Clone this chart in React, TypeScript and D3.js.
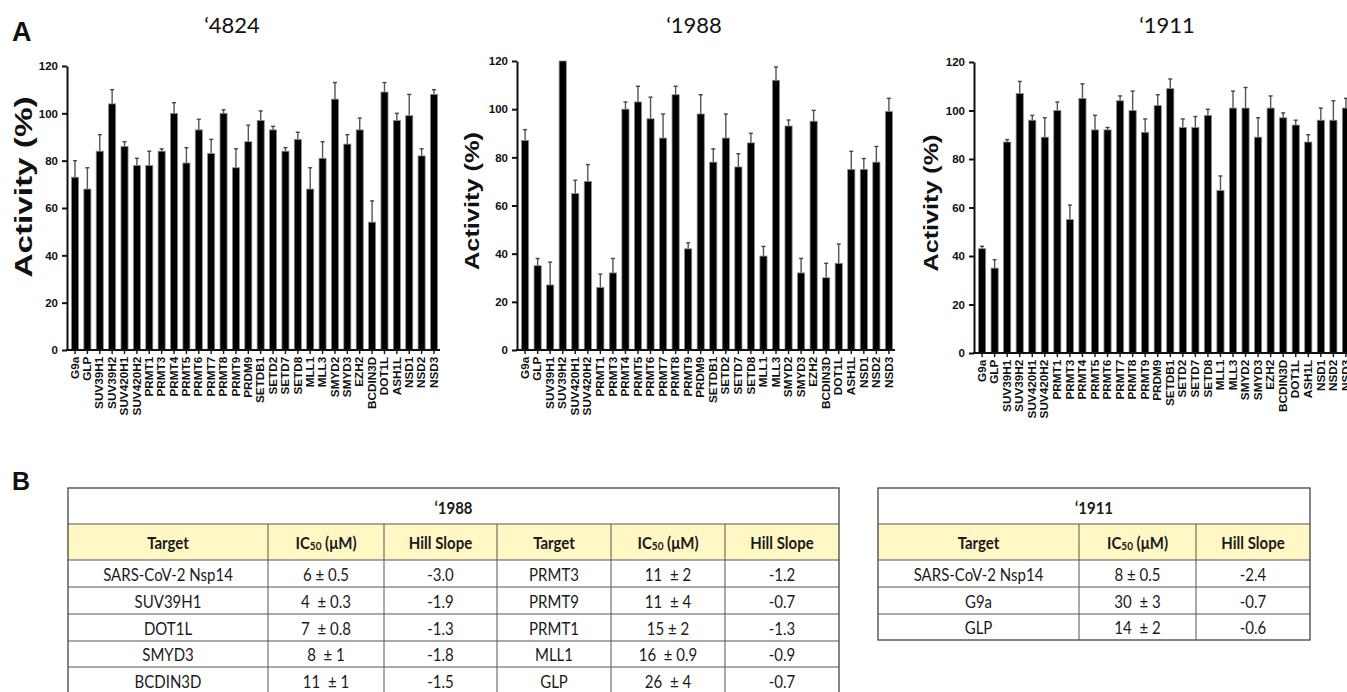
import React, { useEffect, useRef } from "react";
import * as d3 from "d3";

const targets = [
  "G9a", "GLP", "SUV39H1", "SUV39H2", "SUV420H1", "SUV420H2", "PRMT1", "PRMT3",
  "PRMT4", "PRMT5", "PRMT6", "PRMT7", "PRMT8", "PRMT9", "PRDM9", "SETDB1", "SETD2",
  "SETD7", "SETD8", "MLL1", "MLL3", "SMYD2", "SMYD3", "EZH2", "BCDIN3D", "DOT1L",
  "ASH1L", "NSD1", "NSD2", "NSD3",
];

const activity4824 = [73, 68, 84, 104, 86, 78, 78, 84, 100, 79, 93, 83, 100, 77, 88, 97, 93, 84, 89, 68, 81, 106, 87, 93, 54, 109, 97, 99, 82, 108];
const error4824 = [7, 9, 7, 6, 2, 3, 6, 1, 4.5, 6.5, 4.5, 6, 1.5, 8, 7, 4, 1.5, 1.5, 3, 9, 7, 7, 4, 5, 9, 4, 3, 9, 3, 2];

const activity1988 = [87, 35, 27, 120, 65, 70, 26, 32, 100, 103, 96, 88, 106, 42, 98, 78, 88, 76, 86, 39, 112, 93, 32, 95, 30, 36, 75, 75, 78, 99];
const error1988 = [4.5, 3, 9.5, 0, 5.5, 7, 5.5, 6, 3, 6.5, 9, 10, 3.5, 2.5, 8, 5.5, 10, 5.5, 4, 4, 5.5, 2.5, 6, 4.5, 6, 8, 7.5, 4.5, 6.5, 5.5];

const activity1911 = [43, 35, 87, 107, 96, 89, 100, 55, 105, 92, 92, 104, 100, 91, 102, 109, 93, 93, 98, 67, 101, 101, 89, 101, 97, 94, 87, 96, 96, 101];
const error1911 = [1, 3.5, 1, 5, 2, 8, 3.5, 6, 6, 6, 1, 2, 8, 5.5, 4.5, 4, 3.5, 4.5, 2.5, 6, 7, 8.5, 8, 5, 2, 2, 3, 5, 8, 4];

const yTicks = [0, 20, 40, 60, 80, 100, 120];

// table B
const headers = ["Target", "IC50", "Hill Slope"];
const t1988LeftTarget = ["SARS-CoV-2 Nsp14", "SUV39H1", "DOT1L", "SMYD3", "BCDIN3D"];
const t1988LeftIC50 = ["6 ± 0.5", "4  ± 0.3", "7  ± 0.8", "8  ± 1", "11  ± 1"];
const t1988LeftHill = ["-3.0", "-1.9", "-1.3", "-1.8", "-1.5"];
const t1988RightTarget = ["PRMT3", "PRMT9", "PRMT1", "MLL1", "GLP"];
const t1988RightIC50 = ["11  ± 2", "11  ± 4", "15 ± 2", "16  ± 0.9", "26  ± 4"];
const t1988RightHill = ["-1.2", "-0.7", "-1.3", "-0.9", "-0.7"];
const t1911Target = ["SARS-CoV-2 Nsp14", "G9a", "GLP"];
const t1911IC50 = ["8 ± 0.5", "30  ± 3", "14  ± 2"];
const t1911Hill = ["-2.4", "-0.7", "-0.6"];

const AXIS_FONT = "'Liberation Sans', Arial, sans-serif";
const TEXT_FONT = "Lato, 'Open Sans', sans-serif";

function BarPanel({ values, errors, left, right, bottom, top, labelX, labelY, labelLen, labelSize }) {
  const ref = useRef<SVGGElement>(null);

  useEffect(() => {
    const g = d3.select(ref.current);
    g.selectAll("*").remove();

    const x = d3.scaleBand().domain(targets).range([left + 2, right]).paddingInner(0.43).paddingOuter(0.2);
    const y = d3.scaleLinear().domain([0, 120]).range([bottom, top]);
    const data = targets.map((t, i) => ({ t, v: values[i], e: errors[i] }));

    // error bars (upper only)
    const eb = g.selectAll(".err").data(data.filter((d) => d.e > 0)).enter().append("g");
    eb.append("line")
      .attr("x1", (d) => x(d.t) + x.bandwidth() / 2)
      .attr("x2", (d) => x(d.t) + x.bandwidth() / 2)
      .attr("y1", (d) => y(d.v))
      .attr("y2", (d) => y(d.v + d.e))
      .attr("stroke", "#555")
      .attr("stroke-width", 1.4);
    eb.append("line")
      .attr("x1", (d) => x(d.t) + x.bandwidth() / 2 - 2)
      .attr("x2", (d) => x(d.t) + x.bandwidth() / 2 + 2)
      .attr("y1", (d) => y(d.v + d.e))
      .attr("y2", (d) => y(d.v + d.e))
      .attr("stroke", "#444")
      .attr("stroke-width", 1.4);

    g.selectAll(".bar").data(data).enter().append("rect")
      .attr("x", (d) => x(d.t))
      .attr("y", (d) => y(Math.min(d.v, 120)))
      .attr("width", x.bandwidth())
      .attr("height", (d) => bottom - y(Math.min(d.v, 120)))
      .attr("fill", "#000")
      .attr("stroke", "#8a8a8a")
      .attr("stroke-width", 0.8);

    const ya = g.append("g")
      .attr("transform", `translate(${left},0)`)
      .call(d3.axisLeft(y).tickValues(yTicks).tickSize(5).tickSizeOuter(0));
    ya.select(".domain").attr("stroke", "#111").attr("stroke-width", 2);
    ya.selectAll(".tick line").attr("stroke", "#111").attr("stroke-width", 2);
    ya.selectAll(".tick text")
      .attr("x", -9)
      .attr("fill", "#111")
      .attr("font-family", AXIS_FONT)
      .attr("font-weight", "bold")
      .attr("font-size", 11.5);

    const xa = g.append("g")
      .attr("transform", `translate(0,${bottom})`)
      .call(d3.axisBottom(x).tickSize(4).tickSizeOuter(0));
    xa.select(".domain").remove();
    xa.selectAll(".tick line").attr("stroke", "#111").attr("stroke-width", 1.4);
    xa.selectAll(".tick text")
      .attr("transform", "rotate(-90) scale(1.12,1)")
      .attr("text-anchor", "end")
      .attr("x", -6)
      .attr("y", 0)
      .attr("dy", "0.35em")
      .attr("fill", "#111")
      .attr("font-family", AXIS_FONT)
      .attr("font-weight", "bold")
      .attr("font-size", 10.5);

    g.append("line")
      .attr("x1", left - 1).attr("x2", right)
      .attr("y1", bottom).attr("y2", bottom)
      .attr("stroke", "#111").attr("stroke-width", 2);

    g.append("text")
      .attr("transform", `translate(${labelX},${labelY}) rotate(-90)`)
      .attr("text-anchor", "middle")
      .attr("dominant-baseline", "central")
      .attr("font-family", AXIS_FONT)
      .attr("font-weight", "bold")
      .attr("font-size", labelSize)
      .attr("textLength", labelLen)
      .attr("lengthAdjust", "spacingAndGlyphs")
      .attr("fill", "#111")
      .text("Activity (%)");
  }, [values, errors, left, right, bottom, top]);

  return <g ref={ref} />;
}

function Cell({ x, y, text, bold = false }) {
  const tf = `translate(${x},${y}) scale(1,1.12)`;
  if (text === "IC50") {
    return (
      <text transform={tf} textAnchor="middle" dominantBaseline="central" fontFamily={TEXT_FONT}
        fontSize={15} fontWeight={bold ? 700 : 400} fill="#1a1a1a">
        IC<tspan fontSize={10} dy={3}>50</tspan><tspan dy={-3}> (μM)</tspan>
      </text>
    );
  }
  return (
    <text transform={tf} textAnchor="middle" dominantBaseline="central" fontFamily={TEXT_FONT}
      fontSize={15} fontWeight={bold ? 700 : 400} fill="#1a1a1a" style={{ whiteSpace: "pre" }}>
      {text}
    </text>
  );
}

function Table({ cols, rows, title, head, body }) {
  const x0 = cols[0], x1 = cols[cols.length - 1];
  const y0 = rows[0], y1 = rows[rows.length - 1];
  return (
    <g>
      <rect x={x0} y={rows[1]} width={x1 - x0} height={rows[2] - rows[1]} fill="#FFF8C4" />
      {rows.slice(1, -1).map((ry, i) => (
        <line key={"r" + i} x1={x0} x2={x1} y1={ry} y2={ry} stroke="#555" strokeWidth={1} />
      ))}
      {cols.slice(1, -1).map((cx, i) => (
        <line key={"c" + i} x1={cx} x2={cx} y1={rows[1]} y2={y1} stroke="#555" strokeWidth={1} />
      ))}
      <rect x={x0} y={y0} width={x1 - x0} height={y1 - y0} fill="none" stroke="#444" strokeWidth={1.3} />
      <Cell x={(x0 + x1) / 2} y={(rows[0] + rows[1]) / 2 + 1} text={title} bold />
      {head.map((h, i) => (
        <Cell key={"h" + i} x={(cols[i] + cols[i + 1]) / 2} y={(rows[1] + rows[2]) / 2} text={h} bold />
      ))}
      {body.map((row, r) =>
        row.map((c, i) => (
          <Cell key={r + "-" + i} x={(cols[i] + cols[i + 1]) / 2} y={(rows[r + 2] + rows[r + 3]) / 2 + 0.5} text={c} />
        ))
      )}
    </g>
  );
}

export default function App() {
  const body1988 = t1988LeftTarget.map((t, i) => [
    t, t1988LeftIC50[i], t1988LeftHill[i], t1988RightTarget[i], t1988RightIC50[i], t1988RightHill[i],
  ]);
  const body1911 = t1911Target.map((t, i) => [t, t1911IC50[i], t1911Hill[i]]);

  return (
    <svg width={1347} height={692} style={{ position: "absolute", left: 0, top: 0, background: "#fff" }}>
      <text x={12} y={41} fontFamily={AXIS_FONT} fontWeight="bold" fontSize={27} fill="#111">A</text>
      <text x={12} y={490} fontFamily={AXIS_FONT} fontWeight="bold" fontSize={25} fill="#111">B</text>

      <text x={232} y={33} textAnchor="middle" fontFamily={TEXT_FONT} fontSize={22} fill="#111">‘4824</text>
      <text x={694} y={33} textAnchor="middle" fontFamily={TEXT_FONT} fontSize={22} fill="#111">‘1988</text>
      <text x={1167} y={33} textAnchor="middle" fontFamily={TEXT_FONT} fontSize={22} fill="#111">‘1911</text>

      <BarPanel values={activity4824} errors={error4824} left={67} right={440} bottom={350} top={66}
        labelX={23} labelY={187} labelLen={181} labelSize={24} />
      <BarPanel values={activity1988} errors={error1988} left={517} right={895} bottom={350} top={61}
        labelX={471} labelY={201} labelLen={138} labelSize={21} />
      <BarPanel values={activity1911} errors={error1911} left={974} right={1352} bottom={353} top={62}
        labelX={930} labelY={203} labelLen={137} labelSize={21} />

      <Table cols={[68, 268, 384, 497, 611, 725, 839]} rows={[488, 524, 560, 587, 614, 641, 667, 694]}
        title="‘1988" head={[...headers, ...headers]} body={body1988} />
      <Table cols={[878, 1079, 1196, 1310]} rows={[488, 524, 560, 587, 614, 640]}
        title="‘1911" head={headers} body={body1911} />
    </svg>
  );
}
